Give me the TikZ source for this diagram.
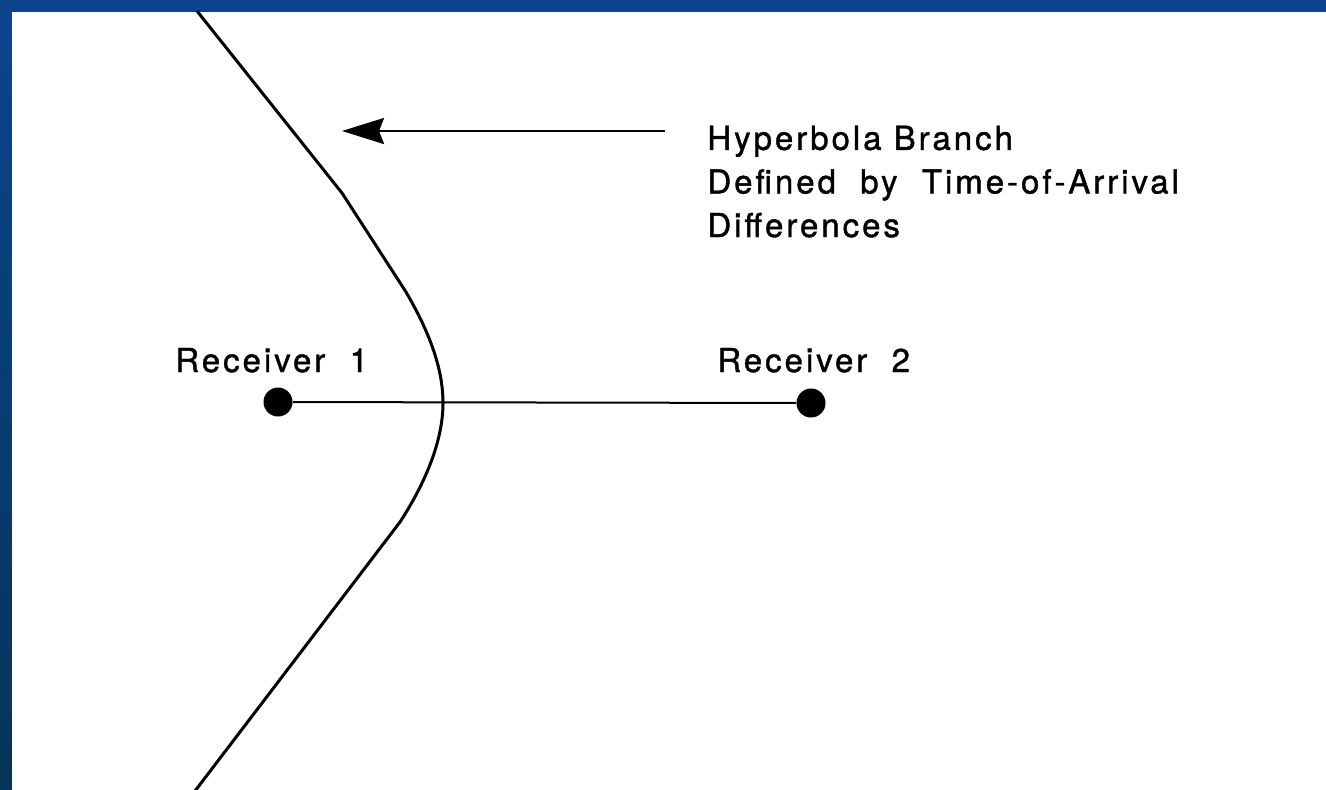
\documentclass[tikz,border=0pt]{standalone}
\usepackage{fontspec}
\usetikzlibrary{arrows.meta}
\newfontfamily\lblfont[LetterSpace=9,FakeBold=1.2]{TeX Gyre Heros}
\definecolor{bgtop}{RGB}{12,68,142}
\definecolor{bgbot}{RGB}{6,52,88}
\tikzset{
  lbl/.style={font=\lblfont\fontsize{16.5pt}{21.8pt}\selectfont, inner sep=0pt, anchor=base west, align=left},
  receiver/.style={circle, fill=black, minimum size=14.5pt, inner sep=0pt},
  hyp/.style={line width=1.5pt, line join=round},
  baseline/.style={line width=1pt},
  pointer/.style={line width=1.3pt, -{Stealth[length=21pt,width=13pt,inset=2.5pt]}}
}
\begin{document}
\begin{tikzpicture}[x=0.5pt,y=-0.5pt]
\useasboundingbox (0,0) rectangle (1326,789);
% background frame
\shade[top color=bgtop, bottom color=bgbot] (0,0) rectangle (12,789);
\fill[bgtop] (0,0) rectangle (1326,12);
\fill[white] (12,12) rectangle (1326,789);
% receivers
\node[receiver] (r1) at (278,402) {};
\node[receiver] (r2) at (811,403) {};
\draw[baseline] (r1) -- (r2);
\node[lbl] (l1) at (175,372) {Receiver\ \ 1};
\node[lbl] (l2) at (717,372) {Receiver\ \ 2};
% hyperbola branch
\draw[hyp] (197,11) -- (342,193) -- (406,292)
  .. controls (436,343) and (443,378) .. (443,403)
  .. controls (443,440) and (426,482) .. (400,522) -- (195,791);
% annotation
\node[lbl] (note) at (707,237) {Hyperbola Branch\\Defined\ \ by\ \ Time-of-Arrival\\Differences};
\coordinate (astart) at (665,131);
\coordinate (atip) at (342,131);
\draw[pointer] (astart) -- (atip);
\end{tikzpicture}
\end{document}
